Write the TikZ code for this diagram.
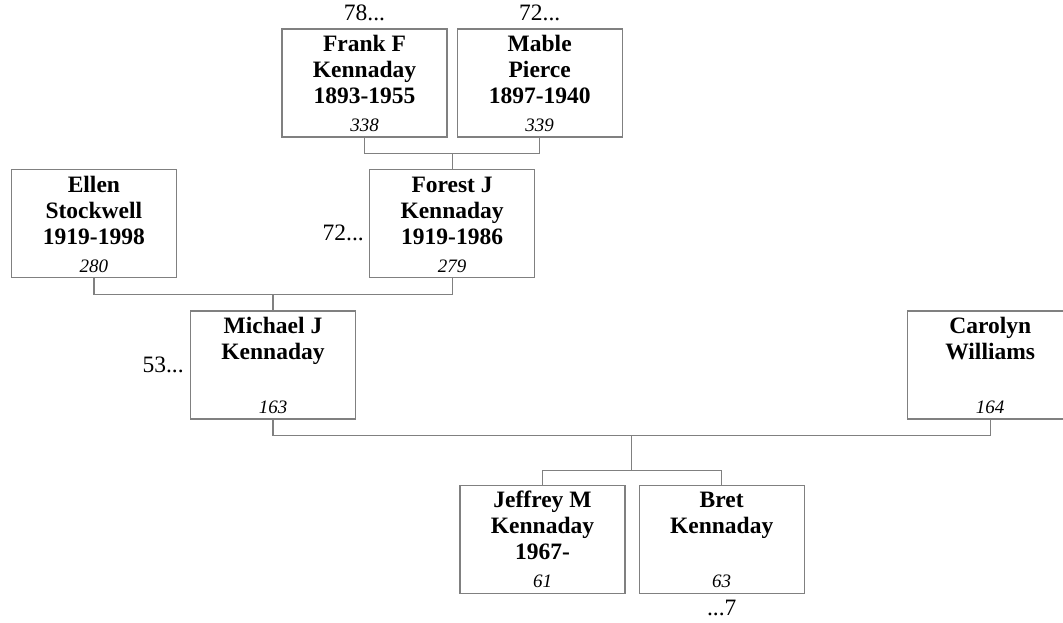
\documentclass[tikz,border=0pt]{standalone}
\usepackage{fontspec}
\setmainfont{Liberation Serif}
\usepackage{tikz}
\usetikzlibrary{positioning,calc}
\definecolor{moldura}{HTML}{808080}
\newcommand{\namefont}{\fontsize{23.5}{26}\selectfont\bfseries}
\newcommand{\numfont}{\fontsize{19}{20}\selectfont\mdseries\itshape}
\newcommand{\card}[2]{\parbox[c][98pt][t]{160pt}{\centering\namefont\rule{0pt}{17.5pt}#1\par\vfill{\numfont #2}}}

\begin{document}
\begin{tikzpicture}[x=1pt,y=-1pt,
      every node/.style={font=\fontsize{23.5}{24}\selectfont},
      person/.style={draw=moldura,line width=1.2pt,fill=white,minimum width=165pt,minimum height=108pt,inner sep=0pt},
      more/.style={inner sep=0pt},
      link/.style={draw=moldura,line width=1.2pt},
    ]
  \useasboundingbox (0,0) rectangle (1063,623);
  \node[person] (frank) at (364.5,83) {\card{Frank F\\Kennaday\\1893-1955}{338}};
  \node[person, right=9pt of frank] (mable) {\card{Mable\\Pierce\\1897-1940}{339}};
  \coordinate (fm) at ($(frank.south)!.5!(mable.south)+(0,16)$);
  \node[person, below=15.5pt of fm] (forest) {\card{Forest J\\Kennaday\\1919-1986}{279}};
  \node[person, left=192pt of forest] (ellen) {\card{Ellen\\Stockwell\\1919-1998}{280}};
  \coordinate (ef) at ($(ellen.south)!.5!(forest.south)+(0,16)$);
  \node[person, below=16pt of ef] (michael) {\card{Michael J\\Kennaday}{163}};
  \node[person, right=551pt of michael] (carolyn) {\card{Carolyn\\Williams}{164}};
  \coordinate (mc) at ($(michael.south)!.5!(carolyn.south)+(0,16)$);
  \coordinate[below=35pt of mc] (kids);
  \node[person, below left=14pt and 6pt of kids] (jeffrey) {\card{Jeffrey M\\Kennaday\\1967-}{61}};
  \node[person, below right=14pt and 7pt of kids] (bret) {\card{Bret\\Kennaday}{63}};

  % casais e filhos
  \draw[link] (frank.south) |- (fm) -| (mable.south);
  \draw[link] (fm) -- (forest.north);
  \draw[link] (ellen.south) |- (ef) -| (forest.south);
  \draw[link] (ef) -- (michael.north);
  \draw[link] (michael.south) |- (mc) -| (carolyn.south);
  \draw[link] (mc) -- (kids);
  \draw[link] (jeffrey.north) |- (kids) -| (bret.north);

  % referencias
  \node[more, above=7pt of frank] (frankup) {78...};
  \node[more, above=7pt of mable] (mableup) {72...};
  \node[more, left=5pt of forest, yshift=-9pt] (forestup) {72...};
  \node[more, left=6pt of michael] (michaelup) {53...};
  \node[more, below=6pt of bret] (bretdown) {...7};
\end{tikzpicture}
\end{document}
